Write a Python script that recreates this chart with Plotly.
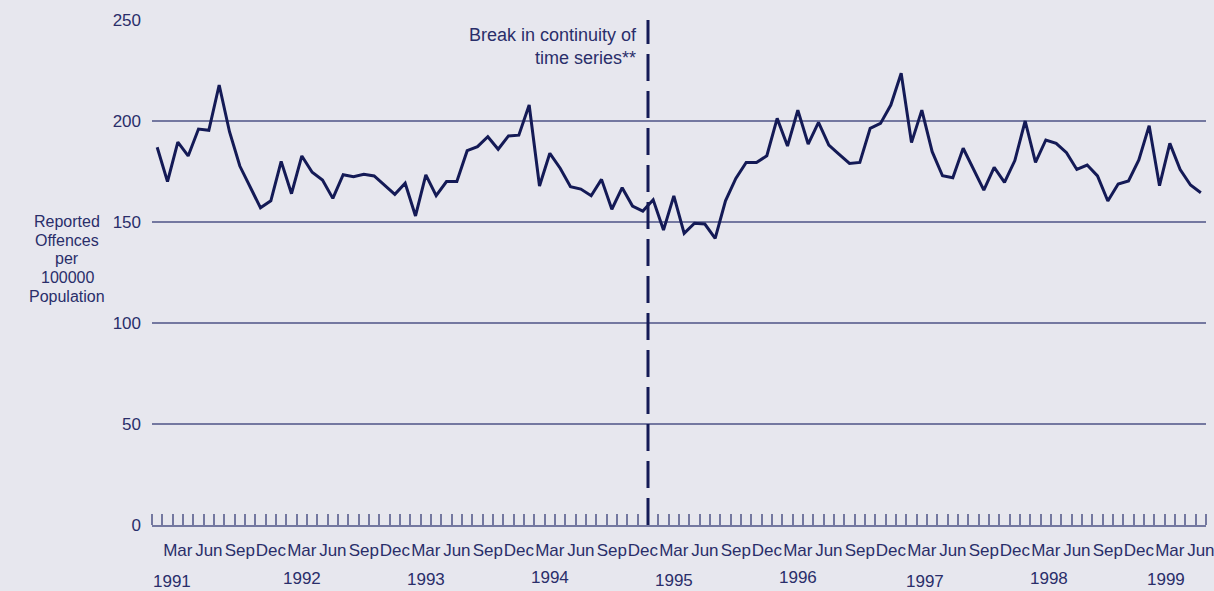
import plotly.graph_objects as go

years = [1991, 1992, 1993, 1994, 1995, 1996, 1997, 1998, 1999]
month_names = ["Jan", "Feb", "Mar", "Apr", "May", "Jun", "Jul", "Aug", "Sep", "Oct", "Nov", "Dec"]
quarter_labels = ["Mar", "Jun", "Sep", "Dec"]

v1991 = [187, 170, 189.5, 182.7, 196, 195.4, 217.8, 194.7, 177.7, 167.5, 157, 160.5]
v1992 = [180, 164, 182.7, 174.6, 170.8, 161.7, 173.4, 172.4, 173.6, 172.8, 168.3, 163.7]
v1993 = [169.2, 153, 173.3, 163, 170, 170, 185.3, 187.3, 192.2, 186, 192.6, 193]
v1994 = [207.9, 167.8, 184, 176.6, 167.5, 166.3, 163, 171.1, 156.3, 167, 157.9, 155.4]
v1995 = [161, 146, 162.9, 144.4, 149.4, 149, 141.9, 160.5, 171.6, 179.5, 179.4, 182.8]
v1996 = [201.3, 187.6, 205.4, 188.6, 199.3, 188.1, 183.5, 179, 179.5, 196.4, 198.8, 207.9]
v1997 = [223.6, 189.3, 205.4, 184.8, 172.9, 171.9, 186.5, 176, 165.8, 177, 169.6, 180.4]
v1998 = [200, 179.5, 190.6, 188.9, 184.3, 176, 178.2, 172.8, 160.4, 168.8, 170.3, 180.7]
v1999 = [197.7, 168, 188.9, 176, 168.3, 164.5]

values = v1991 + v1992 + v1993 + v1994 + v1995 + v1996 + v1997 + v1998 + v1999
labels = [f"{month_names[i % 12]} {years[i // 12]}" for i in range(len(values))]
idx = list(range(len(values)))

break_after = "Dec 1994"
y_ticks = [0, 50, 100, 150, 200, 250]
y_title_lines = ["Reported", "Offences", "per", "100000", "Population"]
break_text = "Break in continuity of<br>time series**"

BG = "#e7e7ee"
LINE = "#141a56"
GRID = "#7478a0"
TEXT = "#2a2e6a"
FONT = "Liberation Sans, Arial, sans-serif"

fig = go.Figure()
fig.add_trace(go.Scatter(x=idx, y=values, mode="lines", text=labels,
                         line=dict(color=LINE, width=3), hoverinfo="text+y",
                         showlegend=False))

qvals = [i for i in idx if month_names[i % 12] in quarter_labels]
qtext = [month_names[i % 12] for i in qvals]

fig.update_layout(
    width=1214, height=591,
    margin=dict(l=152, r=8, t=20, b=66, autoexpand=False),
    paper_bgcolor=BG, plot_bgcolor=BG,
    font=dict(family=FONT, color=TEXT, size=17),
    xaxis=dict(range=[-0.5, len(values) - 0.5], showgrid=False, zeroline=False,
               automargin=False,
               tickmode="array", tickvals=qvals, ticktext=qtext, ticks="",
               tickangle=0, ticklabelstandoff=9, ticklabeloverflow="allow",
               tickfont=dict(size=17, color=TEXT),
               showline=True, linecolor=GRID, linewidth=1.5,
               minor=dict(tickmode="array", tickvals=[i - 0.5 for i in range(len(values) + 1)],
                          ticks="inside", ticklen=11, tickcolor=GRID, tickwidth=1.5,
                          showgrid=False)),
    yaxis=dict(range=[0, 250], tickvals=y_ticks, showgrid=True, gridcolor=GRID,
               gridwidth=1.5, zeroline=False, ticks="", ticklabelstandoff=10,
               automargin=False,
               tickfont=dict(size=17, color=TEXT), showline=False),
)

# year labels
year_shift_x = [-6, 0, 0, 0, 0, 0, 3, 3, -4]
year_y_px = [581, 578, 579, 577, 580, 577, 581, 578, 579]
for k, yr in enumerate(years):
    fig.add_annotation(x=2 + 12 * k, xref="x", y=(525 - year_y_px[k]) / 505, yref="paper",
                       text=str(yr), showarrow=False, xshift=year_shift_x[k],
                       font=dict(size=17, color=TEXT), xanchor="center", yanchor="middle")

# y-axis title, line by line
title_y_px = [221, 240, 258, 277, 296]
for t, ypx in zip(y_title_lines, title_y_px):
    fig.add_annotation(x=0, xref="paper", xshift=67 - 152, y=(525 - ypx) / 505, yref="paper",
                       text=t, showarrow=False, font=dict(size=16, color=TEXT),
                       xanchor="center", yanchor="middle")

# break line
bx = labels.index(break_after) + 0.5
fig.add_shape(type="line", x0=bx, x1=bx, y0=0, y1=1, xref="x", yref="paper",
              line=dict(color=LINE, width=3, dash="27px,10px"))
fig.add_annotation(x=bx, xref="x", y=1, yref="paper", text=break_text, align="right",
                   showarrow=False, xanchor="right", yanchor="top", xshift=-9, yshift=-3,
                   font=dict(size=18, color=TEXT))

fig.write_html("out.html", config={"displayModeBar": False},
               post_script="document.body.style.margin='0';document.body.style.overflow='hidden';")
